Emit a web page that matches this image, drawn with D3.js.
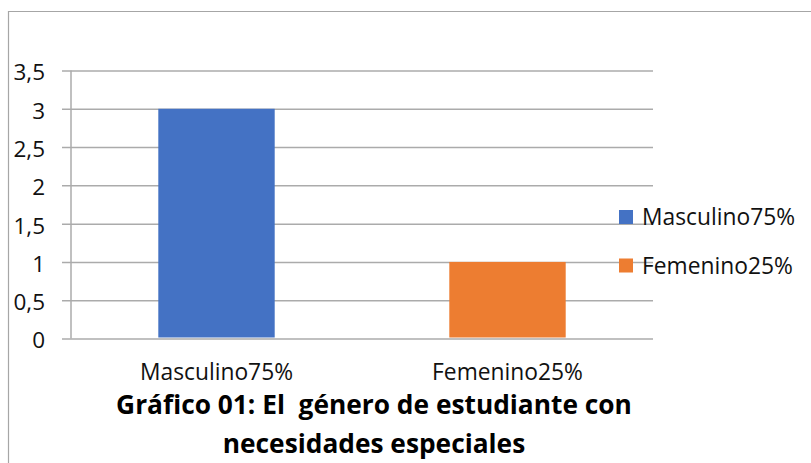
<!DOCTYPE html>
<html>
<head>
<meta charset="utf-8">
<script src="https://cdn.jsdelivr.net/npm/d3@7"></script>
<style>
  html, body { margin: 0; padding: 0; background: #fff; }
  svg { display: block; }
</style>
</head>
<body>
<div id="chart"></div>
<script>
const WIDTH = 811;
const HEIGHT = 463;

// data
const categories = ["Masculino75%", "Femenino25%"];
const values = [3, 1];
const barColors = ["#4472C4", "#ED7D31"];
const yTicks = [0, 0.5, 1, 1.5, 2, 2.5, 3, 3.5];
const titleLines = ["Gráfico 01: El  género de estudiante con", "necesidades especiales"];

const PLOT = { left: 71, right: 653, top: 70.5, bottom: 338.5 };
const TICK_LEFT = 62;
const FONT = "'Open Sans', sans-serif";
const GRID = "#ababab";

const locale = d3.formatLocale({ decimal: ",", thousands: ".", grouping: [3], currency: ["", "€"] });
const fmt = (d) => locale.format("")(d);

const svg = d3.select("#chart")
  .append("svg")
  .attr("width", WIDTH)
  .attr("height", HEIGHT);

// chart frame
svg.append("path")
  .attr("d", `M8.5,${HEIGHT} V11.5 H${WIDTH}`)
  .attr("fill", "none")
  .attr("stroke", "#a6a6a6")
  .attr("stroke-width", 1.2);

const y = d3.scaleLinear().domain([0, 3.5]).range([PLOT.bottom, PLOT.top]);
const x = d3.scaleBand()
  .domain(categories)
  .range([PLOT.left, PLOT.right])
  .paddingInner(0.6)
  .paddingOuter(0.3);

// gridlines + y labels
const yAxis = svg.append("g")
  .attr("transform", `translate(${TICK_LEFT},0)`)
  .call(d3.axisLeft(y).tickValues(yTicks).tickFormat(fmt).tickSize(-(PLOT.right - TICK_LEFT)).tickPadding(17));
yAxis.select(".domain").remove();
yAxis.selectAll(".tick line").attr("stroke", GRID).attr("stroke-width", 1.5);
yAxis.selectAll(".tick text")
  .attr("dy", "0.42em")
  .attr("fill", "#111")
  .style("font-family", FONT)
  .style("font-size", "22.5px");

// vertical axis line
svg.append("line")
  .attr("x1", PLOT.left).attr("x2", PLOT.left)
  .attr("y1", PLOT.top).attr("y2", PLOT.bottom)
  .attr("stroke", GRID)
  .attr("stroke-width", 1.5);

// bars
svg.append("g")
  .selectAll("rect")
  .data(categories)
  .join("rect")
  .attr("x", (d) => x(d))
  .attr("width", x.bandwidth())
  .attr("y", (d, i) => y(values[i]))
  .attr("height", (d, i) => y(0) - y(values[i]) - 1)
  .attr("fill", (d, i) => barColors[i]);

// x labels
const xAxis = svg.append("g")
  .attr("transform", `translate(0,${PLOT.bottom})`)
  .call(d3.axisBottom(x).tickSize(0));
xAxis.select(".domain").remove();
xAxis.selectAll(".tick text")
  .attr("y", 41.5)
  .attr("dy", null)
  .attr("fill", "#111")
  .style("font-family", FONT)
  .style("font-size", "22.8px");

// legend
const legend = svg.append("g")
  .selectAll("g")
  .data(categories)
  .join("g")
  .attr("transform", (d, i) => `translate(619,${217 + i * 48.5})`);
legend.append("rect")
  .attr("x", 0).attr("y", -7)
  .attr("width", 14).attr("height", 14)
  .attr("fill", (d, i) => barColors[i]);
legend.append("text")
  .attr("x", 23).attr("y", 8)
  .attr("fill", "#111")
  .style("font-family", FONT)
  .style("font-size", "22.8px")
  .text((d) => d);

// title
svg.append("g")
  .selectAll("text")
  .data(titleLines)
  .join("text")
  .attr("x", 374)
  .attr("y", (d, i) => 414 + i * 39)
  .attr("text-anchor", "middle")
  .attr("fill", "#000")
  .style("font-family", FONT)
  .style("font-weight", "bold")
  .style("font-size", "26.3px")
  .style("white-space", "pre")
  .text((d) => d);
</script>
</body>
</html>
